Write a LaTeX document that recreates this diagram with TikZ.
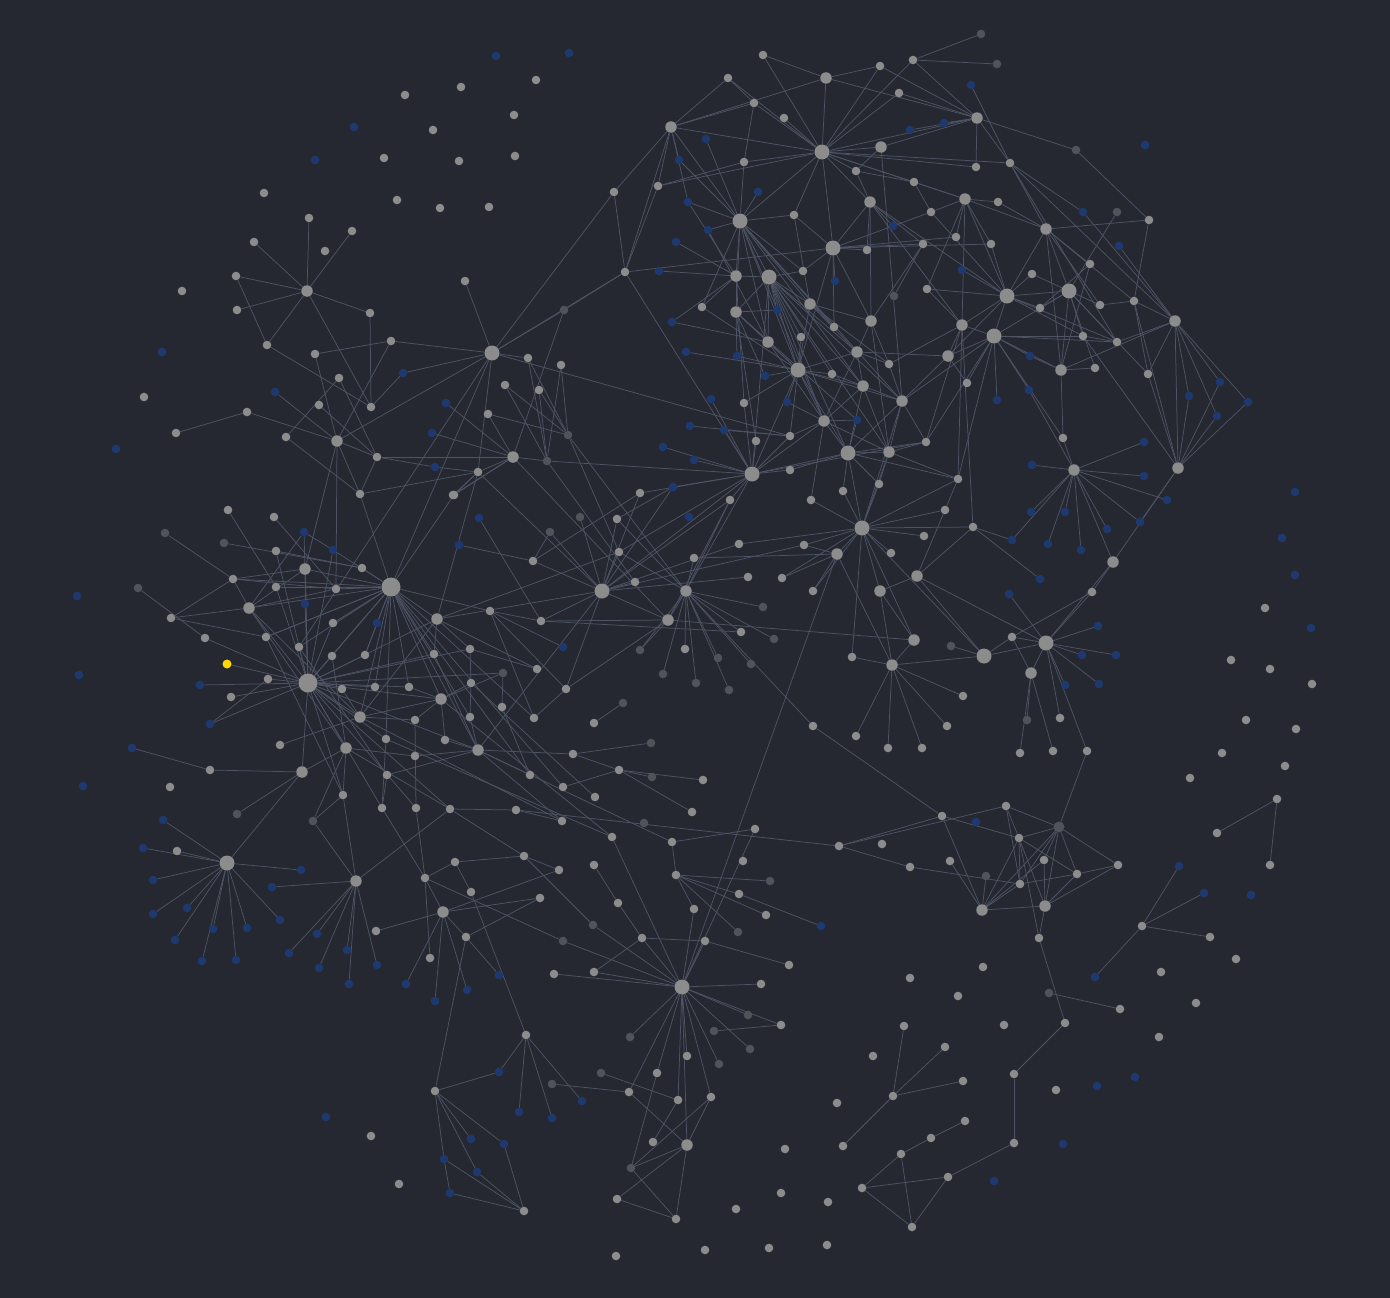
\documentclass[tikz,border=0pt]{standalone}
\usetikzlibrary{backgrounds}
\definecolor{bgc}{RGB}{37,40,48}
\definecolor{cg}{RGB}{140,140,140}
\definecolor{cb}{RGB}{30,57,112}
\definecolor{cd}{RGB}{80,83,90}
\definecolor{cy}{RGB}{255,215,0}
\definecolor{ce}{RGB}{78,84,102}
\pgfdeclarelayer{back}
\pgfdeclarelayer{edges}
\pgfsetlayers{back,edges,main}
\makeatletter
\newcommand\edg[2]{\@ifundefined{pgf@sh@ns@n#1}{}{\@ifundefined{pgf@sh@ns@n#2}{}{\draw[ed] (n#1) -- (n#2);}}}
\makeatother
\tikzset{
 dot/.style={circle,inner sep=0pt,draw=none},
 gs/.style={dot,minimum size=8.6pt,fill=cg},
 gm/.style={dot,minimum size=11.5pt,fill=cg},
 gh/.style={dot,minimum size=15pt,fill=cg},
 gH/.style={dot,minimum size=19pt,fill=cg},
 bs/.style={dot,minimum size=8.6pt,fill=cb},
 ds/.style={dot,minimum size=8.6pt,fill=cd},
 dm/.style={dot,minimum size=11pt,fill=cd},
 ys/.style={dot,minimum size=9pt,fill=cy},
 ed/.style={draw=ce,line width=0.75pt}
}
\begin{document}
\begin{tikzpicture}[x=1pt,y=-1pt]
\begin{pgfonlayer}{back}
\fill[bgc] (0,0) rectangle (1390,1298);
\end{pgfonlayer}
% gray small
\foreach \x/\y in {536/80,405/95,461/87,433/130,514/115,384/158,459/161,515/156,264/193,397/200,440/208,489/207,182/291,144/397,
309/218,352/231,325/251,254/242,236/276,237/310,267/345,370/313,315/354,391/341,339/378,319/405,371/407,247/412,176/433,286/437,377/457,360/494,465/281,528/358,561/365,505/385,539/390,488/414,478/472,453/495,
763/55,728/78,880/66,913/60,754/103,784/118,899/93,744/162,856/171,976/167,614/192,658/186,914/182,998/202,931/212,794/215,867/250,923/244,956/237,991/244,625/272,803/271,927/289,702/307,834/327,801/337,889/364,832/374,967/383,744/403,790/436,756/441,926/442,790/470,958/479,640/493,843/491,879/484,
1010/163,1149/220,1090/264,1032/274,1040/308,1100/305,1134/301,1083/336,1117/342,1095/368,1148/374,1063/438,
730/500,617/519,811/500,945/510,619/552,739/544,804/545,891/553,694/558,924/536,973/527,635/582,748/577,782/578,813/591,741/632,685/649,852/657,963/696,594/723,813/726,856/736,947/726,888/748,922/748,573/754,619/770,703/780,563/787,595/797,692/812,942/816,562/821,755/829,612/837,672/842,839/846,882/844,743/861,950/861,910/867,594/865,676/875,
454/495,228/510,274/517,276/551,533/561,362/568,233/579,276/587,336/589,171/618,266/637,205/638,333/623,490/611,541/621,299/647,332/656,365/655,434/654,470/649,537/669,268/679,342/689,375/687,409/687,231/697,471/683,502/707,566/689,415/720,470/717,534/718,386/739,445/740,280/745,415/756,530/775,210/770,387/775,170/787,343/795,382/808,416/808,450/809,516/810,524/856,455/862,559/870,177/851,
1092/592,1265/608,1012/637,1231/660,1270/669,1312/684,1060/718,1246/720,1296/729,1020/753,1053/751,1087/751,1222/753,1285/766,1190/778,1277/799,1006/806,1217/833,1019/838,1270/865,1044/860,1077/874,1118/865,1020/884,1142/926,1210/937,1039/938,1236/959,1161/972,1196/1003,1120/1009,1065/1023,1159/1037,1056/1090,
376/931,425/878,430/958,466/937,471/892,540/898,554/974,526/1035,435/1091,524/1211,371/1136,399/1184,
594/972,618/903,694/909,739/894,766/915,642/938,705/941,789/965,761/984,781/1025,687/1056,657/1073,629/1092,678/1100,711/1097,653/1142,617/1199,676/1219,616/1256,705/1250,769/1248,827/1245,736/1209,781/1193,828/1202,785/1149,837/1103,843/1146,873/1056,910/978,904/1026,945/1047,893/1096,963/1081,958/996,983/967,1004/1025,965/1121,931/1138,901/1154,862/1188,948/1177,912/1227,1014/1143,1014/1074}
 \node[gs] (n\x x\y) at (\x,\y) {};
% gray medium
\foreach \x/\y in {307/291,337/441,513/457,826/78,881/147,977/118,671/127,965/199,870/202,1046/229,736/276,736/312,810/304,871/321,962/325,1175/321,768/342,857/352,948/356,1061/370,863/386,902/401,824/421,889/452,1074/470,1178/468,1113/562,837/554,686/591,880/591,917/576,668/620,914/640,892/665,1031/673,437/619,305/569,249/608,441/699,360/717,478/750,346/748,302/772,356/881,443/912,687/1145,1045/906,982/910}
 \node[gm] (n\x x\y) at (\x,\y) {};
% hubs
\foreach \x/\y in {492/353,822/152,740/221,833/248,769/277,798/370,848/453,752/474,1007/296,1069/291,994/336,862/528,602/591,984/656,1046/643,227/863,682/987}
 \node[gh] (n\x x\y) at (\x,\y) {};
\foreach \x/\y in {391/587,308/683}
 \node[gH] (n\x x\y) at (\x,\y) {};
% blue
\foreach \x/\y in {496/56,569/53,354/127,315/160,162/352,116/449,77/596,79/675,83/786,275/392,403/373,446/403,432/433,435/467,971/85,910/130,944/123,706/139,679/160,688/202,758/192,708/230,893/226,676/242,659/271,835/281,962/270,777/310,672/322,686/352,737/356,765/376,1030/356,997/400,1029/390,711/399,787/402,857/420,690/426,724/430,663/447,694/460,673/487,689/517,1145/145,1083/212,1119/246,1220/382,1248/402,1189/396,1217/416,1144/442,1032/465,1144/476,1167/500,1295/492,1031/512,1065/512,1107/529,1140/522,1012/540,1048/544,1081/550,1282/538,1040/579,1009/594,1295/575,1098/626,1311/628,1082/655,1116/655,1065/685,1099/684,976/822,1179/866,1204/893,1251/895,1095/977,1135/1077,1097/1086,1063/1144,994/1181,821/926,582/1101,479/518,459/545,304/532,333/550,305/604,377/623,563/647,200/685,210/724,132/748,163/820,143/848,153/880,153/914,187/908,175/940,213/929,202/961,236/960,247/928,280/920,301/870,272/887,317/934,289/953,319/968,347/950,349/984,377/965,406/984,435/1001,467/990,499/975,499/1072,471/1139,504/1144,444/1159,477/1172,450/1193,519/1112,552/1118,326/1117}
 \node[bs] (n\x x\y) at (\x,\y) {};
% dark
\foreach \x/\y in {981/34,997/64,1076/150,1117/212,894/296,564/310,568/435,547/461,580/517,550/532,165/533,224/543,138/588,503/673,237/814,313/821,763/607,774/639,640/650,718/658,751/664,663/674,696/683,729/690,623/703,651/743,652/777,644/823,770/881,593/925,738/932,563/941,748/1015,714/1031,630/1037,750/1049,719/1064,601/1073,631/1168,552/1084,1027/720,986/876,1049/993,951/646}
 \node[ds] (n\x x\y) at (\x,\y) {};
\node[dm] (n1059x827) at (1059,827) {};
\node[ys] (n227x664) at (227,664) {};
\begin{pgfonlayer}{edges}
\draw[ed] (n227x664) -- (n308x683);
\foreach \a/\b in {307x291/309x218,307x291/352x231,307x291/254x242,307x291/236x276,307x291/237x310,307x291/267x345,307x291/370x313,307x291/371x407,236x276/267x345,370x313/371x407,267x345/371x407,
315x354/391x341,315x354/337x441,391x341/492x353,391x341/337x441,339x378/286x437,339x378/377x457,319x405/377x457,247x412/176x433,247x412/337x441,275x392/337x441,403x373/492x353,403x373/371x407,
337x441/492x353,337x441/360x494,337x441/377x457,337x441/305x569,337x441/336x589,286x437/360x494,377x457/360x494,377x457/513x457,377x457/435x467,435x467/478x472,360x494/478x472,360x494/391x587,
492x353/465x281,492x353/564x310,492x353/614x192,492x353/528x358,492x353/790x436,492x353/478x472,492x353/391x587,492x353/299x647,492x353/625x272,564x310/625x272,564x310/513x457,
528x358/568x435,528x358/547x461,561x365/568x435,561x365/547x461,505x385/568x435,505x385/547x461,539x390/547x461,539x390/568x435,488x414/513x457,488x414/568x435,446x403/513x457,432x433/513x457,513x457/478x472,513x457/547x461,513x457/453x495,478x472/453x495,547x461/752x474,454x495/391x587,454x495/478x472,454x495/513x457,
568x435/686x591,568x435/619x552,547x461/635x582,513x457/668x620,478x472/602x591,640x493/533x561,673x487/617x519,663x447/752x474,490x611/563x647,541x621/741x632,437x619/602x591,550x532/602x591}{\edg{\a}{\b}}
\foreach \a/\b in {822x152/826x78,822x152/754x103,822x152/784x118,822x152/880x66,822x152/899x93,822x152/913x60,822x152/881x147,822x152/856x171,822x152/744x162,822x152/671x127,822x152/658x186,822x152/794x215,822x152/740x221,822x152/833x248,822x152/870x202,822x152/914x182,822x152/965x199,822x152/977x118,822x152/763x55,822x152/728x78,822x152/1010x163,822x152/976x167,
826x78/763x55,826x78/880x66,826x78/671x127,826x78/977x118,728x78/671x127,728x78/754x103,754x103/671x127,754x103/744x162,
671x127/614x192,671x127/658x186,671x127/625x272,671x127/740x221,671x127/688x202,671x127/679x160,
614x192/625x272,658x186/625x272,658x186/744x162,625x272/752x474,625x272/833x248,
881x147/977x118,881x147/902x401,881x147/856x171,
913x60/981x34,913x60/997x64,913x60/977x118,880x66/977x118,899x93/977x118,
977x118/976x167,977x118/1010x163,977x118/1076x150,977x118/910x130,977x118/944x123,971x85/1010x163,
1010x163/1083x212,1010x163/1046x229,1010x163/1117x342,1010x163/1175x321,1076x150/1149x220,1083x212/1175x321,1117x212/1069x291,1149x220/1046x229,
1046x229/965x199,1046x229/998x202,1046x229/1007x296,1046x229/1069x291,1046x229/1061x370,1046x229/1090x264,1119x246/1175x321,1090x264/1061x370,1090x264/1040x308,1046x229/1134x301,1046x229/1100x305,
1007x296/965x199,1007x296/991x244,1007x296/962x325,1007x296/994x336,1007x296/1040x308,1007x296/1032x274,1007x296/948x356,1007x296/1069x291,1007x296/1083x336,1007x296/931x212,1007x296/962x270,1007x296/927x289,1007x296/1117x342,
1069x291/1040x308,1069x291/1100x305,1069x291/1083x336,1069x291/1061x370,1069x291/1095x368,1069x291/1032x274,1069x291/994x336,1069x291/1117x342,1069x291/1148x374,
1175x321/1134x301,1175x321/1117x342,1175x321/1148x374,1175x321/1178x468,1175x321/1220x382,1175x321/1189x396,1175x321/1217x416,1175x321/1061x370,1175x321/1248x402,
1178x468/1248x402,1178x468/1220x382,1178x468/1189x396,1178x468/1217x416,1178x468/1148x374,1178x468/1134x301,1178x468/1083x336,1178x468/1113x562,1178x468/1140x522,
1134x301/1100x305,1134x301/1149x220,1134x301/1148x374,1117x342/1083x336,
1061x370/1030x356,1061x370/1095x368,1061x370/1063x438,1061x370/994x336,
994x336/962x325,994x336/948x356,994x336/967x383,994x336/997x400,994x336/1030x356,994x336/1029x390,994x336/1083x336,994x336/1117x342,994x336/926x442,994x336/1063x438,994x336/902x401,
962x325/948x356,962x325/965x199,962x325/958x479}{\edg{\a}{\b}}
\foreach \a/\b in {1074x470/1063x438,1074x470/1144x442,1074x470/1144x476,1074x470/1032x465,1074x470/1031x512,1074x470/1065x512,1074x470/1048x544,1074x470/1012x540,1074x470/1081x550,1074x470/1107x529,1074x470/1140x522,1074x470/1113x562,1074x470/1029x390,1074x470/1167x500,
1113x562/1092x592,1113x562/1046x643,1040x579/973x527,1009x594/1046x643,
1046x643/1012x637,1046x643/1098x626,1046x643/1082x655,1046x643/1116x655,1046x643/1065x685,1046x643/1099x684,1046x643/1031x673,1046x643/1060x718,1046x643/1087x751,1046x643/1092x592,1046x643/984x656,1046x643/917x576,
1031x673/1027x720,1031x673/1020x753,1031x673/1053x751,1031x673/1012x637,1092x592/1012x637,
1059x827/1006x806,1059x827/1019x838,1059x827/1044x860,1059x827/1077x874,1059x827/1118x865,1059x827/1045x906,1059x827/1020x884,1059x827/982x910,1059x827/1087x751,
1006x806/1019x838,1006x806/1020x884,1006x806/839x846,1019x838/1020x884,1019x838/1045x906,1019x838/1077x874,1019x838/982x910,1044x860/1045x906,1044x860/982x910,1077x874/1045x906,1077x874/1118x865,1118x865/1045x906,1020x884/1077x874,982x910/1045x906,982x910/942x816,982x910/950x861,982x910/986x876,982x910/1020x884,1045x906/1039x938,910x867/1020x884,839x846/910x867,942x816/1019x838,1039x938/1019x838,1039x938/1065x1023,1049x993/1120x1009,1065x1023/1014x1074,
1277x799/1217x833,1277x799/1270x865,1142x926/1179x866,1142x926/1204x893,1142x926/1210x937,1142x926/1095x977}{\edg{\a}{\b}}
\foreach \a/\b in {740x221/706x139,740x221/679x160,740x221/688x202,740x221/708x230,740x221/758x192,740x221/794x215,740x221/736x276,740x221/769x277,740x221/803x271,740x221/810x304,740x221/768x342,740x221/736x312,740x221/834x327,740x221/798x370,740x221/824x421,740x221/902x401,740x221/702x307,740x221/863x386,
833x248/794x215,833x248/870x202,833x248/867x250,833x248/893x226,833x248/991x244,833x248/803x271,833x248/835x281,833x248/798x370,833x248/871x321,833x248/834x327,833x248/923x244,833x248/956x237,
769x277/736x276,769x277/736x312,769x277/768x342,769x277/777x310,769x277/810x304,769x277/798x370,769x277/832x374,769x277/824x421,769x277/857x352,769x277/863x386,769x277/848x453,769x277/752x474,769x277/801x337,769x277/803x271,769x277/902x401,769x277/889x452,
736x276/702x307,736x276/736x312,736x276/744x403,736x276/676x242,736x276/659x271,736x276/688x202,
798x370/768x342,798x370/801x337,798x370/832x374,798x370/765x376,798x370/744x403,798x370/787x402,798x370/824x421,798x370/848x453,798x370/857x352,798x370/863x386,798x370/752x474,798x370/790x436,798x370/810x304,798x370/686x352,798x370/737x356,798x370/702x307,798x370/902x401,
824x421/790x436,824x421/848x453,824x421/889x452,824x421/863x386,824x421/857x420,824x421/857x352,824x421/752x474,824x421/811x500,
752x474/744x403,752x474/756x441,752x474/790x436,752x474/790x470,752x474/730x500,752x474/694x460,752x474/673x487,752x474/640x493,752x474/711x399,752x474/724x430,752x474/926x442,752x474/848x453,752x474/686x591,752x474/602x591,752x474/619x552,
848x453/863x386,848x453/857x420,848x453/889x452,848x453/843x491,848x453/879x484,848x453/926x442,848x453/902x401,848x453/790x470,848x453/958x479,
889x452/902x401,889x452/879x484,889x452/926x442,889x452/871x321,889x452/958x479,863x386/889x452,
902x401/889x364,902x401/948x356,902x401/863x386,902x401/926x442,
871x321/870x202,871x321/857x352,871x321/889x364,871x321/923x244,871x321/810x304,
736x312/777x310,736x312/798x370,736x312/768x342,736x312/756x441,736x312/857x420,
768x342/708x230,768x342/672x322,768x342/824x421,
810x304/794x215,810x304/834x327,810x304/857x352,810x304/889x364,
857x352/863x386,857x352/889x364,857x352/948x356,832x374/863x386,
889x364/962x325,948x356/967x383,926x442/962x325,958x479/994x336,958x479/945x510,
931x212/914x182,931x212/965x199,931x212/893x226,914x182/965x199,965x199/998x202,965x199/991x244,965x199/956x237,923x244/870x202,923x244/894x296,927x289/965x199,927x289/962x325,856x171/914x182,856x171/870x202,870x202/893x226,867x250/870x202,870x202/1007x296,870x202/962x325,
744x162/740x221,690x426/790x436,724x430/790x436,787x402/824x421,765x376/736x312,737x356/736x312,672x322/736x276}{\edg{\a}{\b}}
\foreach \a/\b in {862x528/843x491,862x528/879x484,862x528/811x500,862x528/804x545,862x528/837x554,862x528/891x553,862x528/880x591,862x528/852x657,862x528/914x640,862x528/924x536,862x528/945x510,862x528/958x479,862x528/973x527,862x528/739x544,862x528/984x656,862x528/848x453,862x528/889x452,862x528/902x401,862x528/782x578,862x528/813x591,
837x554/804x545,837x554/782x578,837x554/813x591,837x554/694x558,837x554/892x665,837x554/682x987,
880x591/892x665,880x591/914x640,880x591/917x576,
892x665/856x736,892x665/888x748,892x665/922x748,892x665/947x726,892x665/963x696,892x665/852x657,892x665/984x656,892x665/914x640,
984x656/1012x637,984x656/917x576,984x656/951x646,
917x576/945x510,917x576/973x527,973x527/1012x540,973x527/962x325,
602x591/580x517,602x591/617x519,602x591/619x552,602x591/640x493,602x591/673x487,602x591/730x500,602x591/635x582,602x591/748x577,602x591/668x620,602x591/541x621,602x591/566x689,602x591/739x544,602x591/804x545,602x591/533x561,602x591/478x750,
686x591/694x558,686x591/619x552,686x591/640x650,686x591/685x649,686x591/718x658,686x591/751x664,686x591/696x683,686x591/729x690,686x591/663x674,686x591/763x607,686x591/668x620,686x591/617x519,686x591/730x500,686x591/774x639,686x591/741x632,686x591/813x726,
668x620/566x689,668x620/640x650,668x620/541x621,668x620/914x640,668x620/730x500,
813x726/942x816,
594x723/623x703,573x754/651x743,573x754/619x770,619x770/703x780,619x770/652x777,619x770/692x812,619x770/563x787,
942x816/839x846,516x810/839x846,
755x829/672x842,672x842/676x875,672x842/478x750,612x837/682x987}{\edg{\a}{\b}}
\foreach \a/\b in {165x533/233x579,224x543/362x568,228x510/276x587,274x517/336x589,276x551/362x568,304x532/333x550,304x532/249x608,333x550/308x683,
305x569/391x587,305x569/233x579,305x569/249x608,305x569/305x604,305x569/308x683,
233x579/336x589,233x579/391x587,276x587/308x683,305x604/308x683,333x623/308x683,333x623/391x587,266x637/391x587,377x623/365x655,299x647/391x587,299x647/308x683,332x656/308x683,332x656/391x587,332x656/346x748,365x655/308x683,434x654/391x587,434x654/478x750,470x649/437x619,470x649/471x683,470x649/537x669,490x611/566x689,490x611/541x621,479x518/541x621,459x545/533x561,533x561/550x532,
391x587/362x568,391x587/336x589,391x587/276x587,391x587/249x608,391x587/266x637,391x587/308x683,391x587/377x623,391x587/360x717,391x587/375x687,391x587/386x739,391x587/409x687,391x587/441x699,391x587/470x717,391x587/478x750,391x587/437x619,391x587/490x611,391x587/333x550,391x587/534x718,391x587/563x787,391x587/530x775,391x587/365x655,
437x619/478x472,437x619/619x552,437x619/360x717,437x619/308x683,437x619/537x669,437x619/434x654,
308x683/205x638,308x683/200x685,308x683/210x724,308x683/231x697,308x683/268x679,308x683/249x608,308x683/304x532,308x683/276x551,308x683/360x717,308x683/342x689,308x683/375x687,308x683/409x687,308x683/441x699,308x683/478x750,308x683/346x748,308x683/386x739,308x683/343x795,308x683/382x808,308x683/416x808,308x683/450x809,308x683/434x654,308x683/470x649,308x683/503x673,308x683/302x772,
171x618/233x579,171x618/266x637,138x588/205x638,210x724/268x679,249x608/233x579,249x608/171x618,249x608/336x589,249x608/346x748,249x608/360x717,266x637/343x795,299x647/387x775,
360x717/342x689,360x717/441x699,360x717/280x745,360x717/562x821,360x717/415x720,
346x748/302x772,346x748/343x795,346x748/450x809,346x748/313x821,346x748/415x756,
302x772/210x770,302x772/227x863,302x772/237x814,210x770/132x748,
441x699/409x687,441x699/471x683,441x699/415x720,441x699/445x740,441x699/503x673,441x699/612x837,
478x750/445x740,478x750/470x717,478x750/415x756,478x750/387x775,478x750/562x821,478x750/530x775,478x750/573x754,
471x683/470x717,471x683/595x797,502x707/503x673,502x707/530x775,534x718/566x689,534x718/490x611,
415x720/416x808,386x739/382x808,387x775/382x808,343x795/356x881,382x808/425x878,416x808/425x878,450x809/524x856,450x809/516x810,516x810/562x821,524x856/559x870,455x862/524x856,425x878/455x862,313x821/343x795,386x739/612x837}{\edg{\a}{\b}}
\foreach \a/\b in {227x863/153x880,227x863/153x914,227x863/187x908,227x863/175x940,227x863/213x929,227x863/202x961,227x863/236x960,227x863/247x928,227x863/280x920,227x863/301x870,227x863/163x820,227x863/143x848,227x863/177x851,
356x881/272x887,356x881/317x934,356x881/289x953,356x881/319x968,356x881/347x950,356x881/349x984,356x881/377x965,356x881/313x821,356x881/450x809,
443x912/425x878,443x912/376x931,443x912/406x984,443x912/435x1001,443x912/467x990,443x912/466x937,443x912/540x898,443x912/559x870,425x878/430x958,
466x937/435x1091,466x937/499x975,466x937/540x898,471x892/455x862,526x1035/471x892,526x1035/499x1072,526x1035/519x1112,526x1035/552x1118,526x1035/582x1101,552x1084/629x1092,425x878/563x941,
435x1091/499x1072,435x1091/471x1139,435x1091/504x1144,435x1091/444x1159,444x1159/450x1193,444x1159/524x1211,477x1172/524x1211,504x1144/524x1211,450x1193/524x1211,435x1091/477x1172,
682x987/594x972,682x987/642x938,682x987/705x941,682x987/761x984,682x987/781x1025,682x987/748x1015,682x987/750x1049,682x987/719x1064,682x987/711x1097,682x987/687x1145,682x987/678x1100,682x987/657x1073,682x987/629x1092,682x987/630x1037,682x987/687x1056,682x987/593x925,682x987/563x941,682x987/694x909,682x987/755x829,682x987/554x974,
676x875/770x881,676x875/739x894,676x875/694x909,676x875/738x932,676x875/766x915,739x894/821x926,618x903/642x938,642x938/705x941,642x938/594x972,705x941/789x965,781x1025/714x1031,594x865/618x903,593x925/524x856,
601x1073/678x1100,629x1092/687x1145,657x1073/631x1168,678x1100/653x1142,711x1097/631x1168,711x1097/687x1145,631x1168/687x1145,631x1168/676x1219,617x1199/687x1145,617x1199/676x1219,676x1219/687x1145,
904x1026/893x1096,945x1047/893x1096,963x1081/893x1096,893x1096/843x1146,931x1138/965x1121,931x1138/901x1154,901x1154/862x1188,901x1154/912x1227,862x1188/948x1177,862x1188/912x1227,948x1177/912x1227,948x1177/1014x1143,1014x1143/1014x1074}{\edg{\a}{\b}}
\end{pgfonlayer}
\end{tikzpicture}
\end{document}
